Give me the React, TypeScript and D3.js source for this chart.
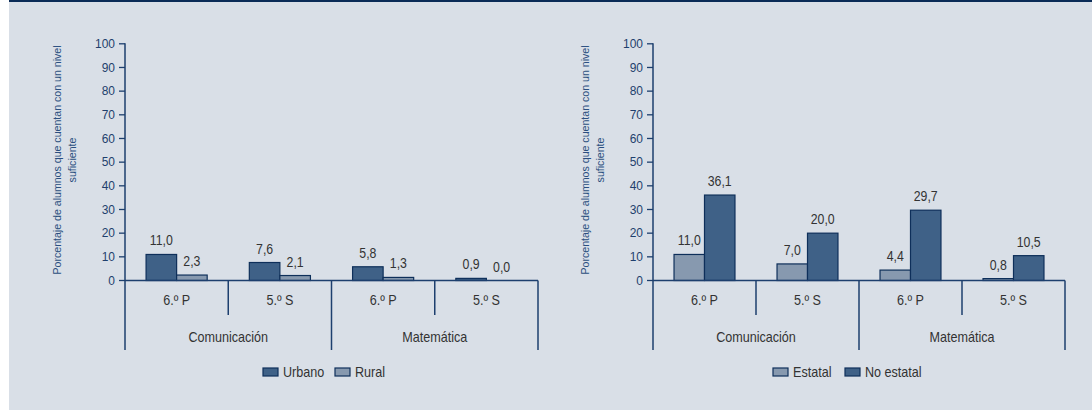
import React from "react";
import * as d3 from "d3";

const subjects = ["Comunicación", "Matemática"];
const grades = ["6.º P", "5.º S", "6.º P", "5.º S"];
const yTicks = [0, 10, 20, 30, 40, 50, 60, 70, 80, 90, 100];

const leftSeries = ["Urbano", "Rural"];
const urbano = [11.0, 7.6, 5.8, 0.9];
const rural = [2.3, 2.1, 1.3, 0.0];

const rightSeries = ["Estatal", "No estatal"];
const estatal = [11.0, 7.0, 4.4, 0.8];
const noEstatal = [36.1, 20.0, 29.7, 10.5];

const yTitle1 = "Porcentaje de alumnos que cuentan con un nivel";
const yTitle2 = "suficiente";

const DARK = "#3f6187";
const LIGHT = "#8799af";
const STROKE = "#0e2f5a";
const AXIS = "#1d3f6e";
const TEXT = "#333333";
const FONT = "'Liberation Sans', Arial, sans-serif";

type NTProps = {
  x: number;
  y: number;
  size: number;
  sx?: number;
  anchor?: "start" | "middle" | "end";
  fill?: string;
  baseline?: string;
  children: React.ReactNode;
};

function NText({ x, y, size, sx = 0.9, anchor = "start", fill = TEXT, baseline, children }: NTProps) {
  return (
    <text
      transform={`translate(${x},${y}) scale(${sx},1)`}
      textAnchor={anchor}
      dominantBaseline={baseline}
      fontSize={size}
      fill={fill}
      fontFamily={FONT}
    >
      {children}
    </text>
  );
}

type PanelProps = {
  x0: number;
  x1: number;
  series: string[];
  values: number[][];
  colors: string[];
  legendX: number[];
};

function Panel({ x0, x1, series, values, colors, legendX }: PanelProps) {
  const y = d3.scaleLinear().domain([0, 100]).range([280.5, 43.8]);
  const xb = d3.scaleBand<number>().domain([0, 1, 2, 3]).range([x0, x1]);
  const bw = xb.bandwidth();
  const xs = d3
    .scaleBand<number>()
    .domain([0, 1])
    .range([0, bw])
    .paddingInner(0)
    .paddingOuter(0.69);
  const fmt = (v: number) => d3.format(".1f")(v).replace(".", ",");
  const y0 = y(0);
  return (
    <g>
      <text
        transform={`translate(${x0 - 68},160) rotate(-90)`}
        textAnchor="middle"
        dominantBaseline="central"
        fontSize={10.6}
        fill="#2b4f80"
        fontFamily={FONT}
      >
        {yTitle1}
      </text>
      <text
        transform={`translate(${x0 - 53},160) rotate(-90)`}
        textAnchor="middle"
        dominantBaseline="central"
        fontSize={10.6}
        fill="#2b4f80"
        fontFamily={FONT}
      >
        {yTitle2}
      </text>
      {yTicks.map((t) => (
        <g key={t}>
          <line x1={x0 - 6} x2={x0} y1={y(t)} y2={y(t)} stroke={AXIS} strokeWidth={1.3} />
          <NText x={x0 - 10} y={y(t)} size={13} sx={0.92} anchor="end" baseline="central" fill="#1f3f6d">
            {t}
          </NText>
        </g>
      ))}
      {values.map((vals, si) =>
        vals.map((v, i) => {
          const bx = (xb(i) as number) + (xs(si) as number);
          return (
            <rect
              key={`${si}-${i}`}
              x={bx}
              y={y(v)}
              width={xs.bandwidth()}
              height={Math.max(0, y0 - y(v))}
              fill={colors[si]}
              stroke={STROKE}
              strokeWidth={1.2}
            />
          );
        })
      )}
      {values.map((vals, si) =>
        vals.map((v, i) => {
          const cx = (xb(i) as number) + (xs(si) as number) + xs.bandwidth() / 2;
          return (
            <NText key={`l-${si}-${i}`} x={cx} y={y(v) - 9} size={14} sx={0.88} anchor="middle">
              {fmt(v)}
            </NText>
          );
        })
      )}
      <line x1={x0} x2={x0} y1={y(100) - 0.5} y2={350} stroke={AXIS} strokeWidth={1.5} />
      <line x1={x0} x2={x1} y1={y0} y2={y0} stroke={AXIS} strokeWidth={1.5} />
      {[1, 2, 3, 4].map((k) => (
        <line
          key={k}
          x1={x0 + k * bw}
          x2={x0 + k * bw}
          y1={y0}
          y2={k % 2 === 0 ? 350 : 315}
          stroke={AXIS}
          strokeWidth={1.5}
        />
      ))}
      {grades.map((g, i) => (
        <NText key={`g-${i}`} x={(xb(i) as number) + bw / 2} y={305} size={14} sx={0.9} anchor="middle">
          {g}
        </NText>
      ))}
      {subjects.map((s, i) => (
        <NText key={s} x={x0 + bw * (2 * i + 1)} y={342} size={14} sx={0.9} anchor="middle">
          {s}
        </NText>
      ))}
      {series.map((s, i) => (
        <g key={s}>
          <rect x={legendX[i]} y={368} width={15} height={8} fill={colors[i]} stroke={STROKE} strokeWidth={1.2} />
          <NText x={legendX[i] + 20} y={377} size={14} sx={0.9}>
            {s}
          </NText>
        </g>
      ))}
    </g>
  );
}

export default function App() {
  return (
    <div style={{ position: "absolute", left: 0, top: 0 }}>
      <svg width={1092} height={410} style={{ display: "block" }}>
        <rect x={9} y={0} width={1083} height={410} fill="#d9dfe7" />
        <rect x={9} y={0} width={1083} height={2} fill="#0a2b57" />
        <Panel
          x0={125}
          x1={538}
          series={leftSeries}
          values={[urbano, rural]}
          colors={[DARK, LIGHT]}
          legendX={[263, 335]}
        />
        <Panel
          x0={653}
          x1={1065}
          series={rightSeries}
          values={[estatal, noEstatal]}
          colors={[LIGHT, DARK]}
          legendX={[773, 845]}
        />
      </svg>
    </div>
  );
}
